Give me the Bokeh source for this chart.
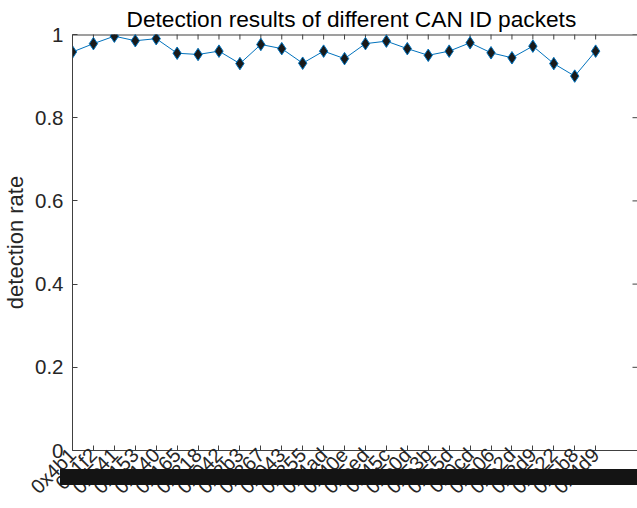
import numpy as np
from bokeh.plotting import figure
from bokeh.models import FixedTicker, Range1d, Div
from bokeh.layouts import column
from bokeh.embed import file_html
from bokeh.resources import INLINE

# ---- data ----
can_ids = ["0x4b1", "0x1f2", "0x541", "0x153", "0x140", "0x165", "0x318",
           "0x042", "0x2b3", "0x367", "0x043", "0x355", "0x4ad", "0x40e",
           "0x5ed", "0x45c", "0x50d", "0x53b", "0x55d", "0x0cd", "0x506",
           "0x52d", "0x3d9", "0x522", "0x5b8", "0x4d9"]
detection_rate = [0.958, 0.978, 0.996, 0.985, 0.990, 0.955, 0.952, 0.960,
                  0.930, 0.976, 0.966, 0.931, 0.960, 0.942, 0.978, 0.984,
                  0.966, 0.950, 0.960, 0.980, 0.956, 0.944, 0.972, 0.930,
                  0.900, 0.960]
y_ticks = [0, 0.2, 0.4, 0.6, 0.8, 1]
y_tick_labels = ["0", "0.2", "0.4", "0.6", "0.8", "1"]
title_text = "Detection results of different CAN ID packets"
y_label = "detection rate"

FONT = "Liberation Sans"
AX = "#404040"
TXT = "#262626"

idx = list(range(1, len(can_ids) + 1))
x_start, x_end = 1, 28
y_start, y_end = 0, 1

p = figure(width=637, height=508, output_backend="svg", toolbar_location=None,
           x_range=Range1d(x_start, x_end), y_range=Range1d(y_start, y_end),
           min_border_left=72, min_border_right=0, min_border_top=34,
           min_border_bottom=56, background_fill_color="white",
           border_fill_color="white")

p.title.text = title_text
p.title.align = "left"
p.title.offset = 54
p.title.text_font = FONT
p.title.text_font_size = "22.7px"
p.title.text_font_style = "normal"
p.title.text_color = "#000000"
p.title.standoff = 6

p.xgrid.visible = False
p.ygrid.visible = False
p.outline_line_color = None

# bottom axis
xa = p.xaxis[0]
xa.ticker = FixedTicker(ticks=idx)
xa.major_label_overrides = {i: lab for i, lab in zip(idx, can_ids)}
xa.major_label_orientation = np.pi / 4
xa.major_label_standoff = 1
xa.major_label_text_font = FONT
xa.major_label_text_font_size = "20px"
xa.major_label_text_color = TXT

# left axis
ya = p.yaxis[0]
ya.ticker = FixedTicker(ticks=y_ticks)
ya.major_label_overrides = {t: lab for t, lab in zip(y_ticks, y_tick_labels)}
ya.major_label_standoff = 9
ya.major_label_text_font = FONT
ya.major_label_text_font_size = "20.5px"
ya.major_label_text_color = TXT
ya.axis_label = y_label
ya.axis_label_text_font = FONT
ya.axis_label_text_font_size = "22px"
ya.axis_label_text_font_style = "normal"
ya.axis_label_text_color = TXT
ya.axis_label_standoff = 4

for ax in (xa, ya):
    ax.axis_line_color = AX
    ax.major_tick_line_color = AX
    ax.major_tick_in = 5
    ax.major_tick_out = 0
    ax.minor_tick_line_color = None

# top box line (half of its width is clipped by the frame)
p.line([x_start, x_end], [y_end, y_end], line_color=AX, line_width=2)
# mirrored inward ticks on the top and right edges (half of each dash is clipped)
p.scatter(idx, [y_end] * len(idx), marker="dash", angle=np.pi / 2, size=10,
          line_color=AX, line_width=1)
p.scatter([x_end] * len(y_ticks), y_ticks, marker="dash", size=10,
          line_color=AX, line_width=1)

# data
p.line(idx, detection_rate, line_color="#0072BD", line_width=1)
p.scatter(idx, detection_rate, marker="diamond", size=12.5, fill_color="#1a1a1a",
          line_color="#0072BD", line_width=1)

# black bar lying over the tick labels (as in the reference)
bar = Div(text="", width=577, height=16, margin=(-39, 0, 0, 60),
          styles={"background-color": "#141414", "z-index": "10"})

layout = column(p, bar, spacing=0)
open("out.html", "w").write(file_html(layout, INLINE))
